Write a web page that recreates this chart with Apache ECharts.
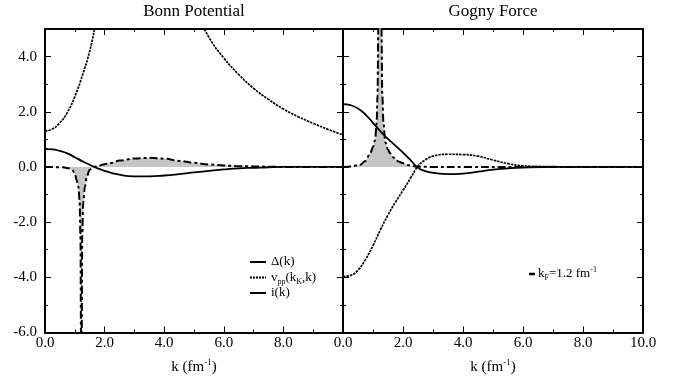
<!DOCTYPE html>
<html><head><meta charset="utf-8">
<script src="https://cdn.jsdelivr.net/npm/echarts@6/dist/echarts.min.js"></script>
<style>html,body{margin:0;padding:0;background:#fff}#c{width:683px;height:380px}</style>
</head><body><div id="c"></div>
<script>
// ---------- data ----------
const panelTitles = ['Bonn Potential', 'Gogny Force'];
const xTicks = [0, 2, 4, 6, 8, 10];
const yTicks = [-6, -4, -2, 0, 2, 4];

// Bonn potential
const bonnDeltaK = [0, 0.25, 0.5, 0.75, 1.0, 1.25, 1.5, 1.75, 2.0, 2.5, 3.0, 3.5, 4.0, 4.5, 5.0, 5.5, 6.0, 6.5, 7.0, 7.5, 8.0, 9.0, 10.0];
const bonnDeltaV = [0.65, 0.64, 0.58, 0.49, 0.35, 0.21, 0.08, -0.04, -0.14, -0.28, -0.34, -0.34, -0.31, -0.26, -0.20, -0.14, -0.09, -0.05, -0.03, -0.01, 0, 0, 0];

const bonnVppK = [0, 0.25, 0.5, 0.75, 1.0, 1.25, 1.5, 1.75, 2.0, 2.5, 3.0, 3.5, 4.0, 4.5, 5.0, 5.5, 6.0, 6.5, 7.0, 7.5, 8.0, 8.5, 9.0, 9.5, 10.0];
const bonnVppV = [1.30, 1.38, 1.60, 1.98, 2.55, 3.30, 4.20, 5.40, 6.3, 7.8, 8.6, 8.7, 8.0, 6.9, 5.8, 4.7, 3.95, 3.35, 2.85, 2.45, 2.10, 1.82, 1.58, 1.36, 1.16];

const bonnIK = [0, 0.6, 0.8, 0.9, 1.0, 1.06, 1.12, 1.16, 1.19, 1.21, 1.22, 1.23, 1.25, 1.28, 1.34, 1.4, 1.5, 1.6, 1.7, 1.8, 2.0, 2.2, 2.5, 3.0, 3.5, 4.0, 4.5, 5.0, 5.5, 6.0, 6.5, 7.0, 7.5, 8.0, 9.0, 10.0];
const bonnIV = [0, -0.01, -0.05, -0.1, -0.22, -0.47, -0.71, -1.2, -2.5, -6.5, -20, -6.5, -2.5, -1.3, -0.71, -0.35, -0.1, -0.02, 0.02, 0.05, 0.10, 0.14, 0.23, 0.31, 0.33, 0.30, 0.22, 0.15, 0.09, 0.05, 0.03, 0.02, 0.01, 0, 0, 0];

// Gogny force
const gognyDeltaK = [0, 0.25, 0.5, 0.75, 1.0, 1.2, 1.4, 1.6, 1.8, 2.0, 2.25, 2.5, 2.75, 3.0, 3.5, 4.0, 4.5, 5.0, 5.5, 6.0, 7.0, 8.0, 9.0, 10.0];
const gognyDeltaV = [2.28, 2.24, 2.12, 1.90, 1.60, 1.35, 1.12, 0.92, 0.72, 0.52, 0.25, -0.03, -0.15, -0.21, -0.26, -0.24, -0.17, -0.10, -0.05, -0.02, 0, 0, 0, 0];

const gognyVppK = [0, 0.25, 0.5, 0.75, 1.0, 1.25, 1.5, 1.75, 2.0, 2.25, 2.5, 2.75, 3.0, 3.5, 4.0, 4.5, 5.0, 5.5, 6.0, 6.5, 7.0, 8.0, 9.0, 10.0];
const gognyVppV = [-3.97, -3.93, -3.74, -3.35, -2.85, -2.27, -1.74, -1.27, -0.85, -0.41, 0.03, 0.26, 0.39, 0.46, 0.45, 0.39, 0.25, 0.12, 0.04, 0.02, 0.01, 0, 0, 0];

const gognyIK = [0, 0.3, 0.57, 0.75, 0.91, 1.0, 1.07, 1.12, 1.15, 1.18, 1.21, 1.23, 1.25, 1.28, 1.31, 1.35, 1.41, 1.5, 1.57, 1.7, 1.85, 2.0, 2.2, 2.45, 3.0, 4.0, 6.0, 8.0, 10.0];
const gognyIV = [0, 0.02, 0.08, 0.22, 0.5, 0.72, 0.98, 1.58, 2.6, 5.2, 9, 20, 9, 5.2, 2.6, 1.58, 0.9, 0.62, 0.5, 0.33, 0.2, 0.13, 0.06, 0.01, 0, 0, 0, 0, 0];

const legendLeft = ['{m|Δ(k)}', '{m|v}{s|pp}{m|(k}{s|K}{m|,k)}', '{m|i(k)}'];
const legendRight = ['{m|k}{s|F}{m|=1.2 fm}{p|-1}'];
const axisNameText = '{n|k (fm}{p|-1}{n|)}';

// ---------- chart ----------
const FONT = 'Liberation Serif';
const pairs = (k, v) => k.map((x, i) => [x, v[i]]);
const solid = { color: '#000', width: 1.8, type: 'solid' };
const dotted = { color: '#000', width: 1.7, type: [2.5, 1] };
const dashdot = { color: '#000', width: 2, type: [8, 3, 3, 3] };
const GRAY = '#c6c6c6';

function xAx(grid, pos, labels, hideMax) {
  return {
    type: 'value', gridIndex: grid, position: pos, min: 0, max: 10, interval: 2,
    axisLine: { show: true, onZero: false, lineStyle: { color: '#000', width: 2 } },
    axisTick: { show: true, inside: true, length: 6, lineStyle: { color: '#000', width: 1 } },
    minorTick: { show: true, splitNumber: 2, length: 3, lineStyle: { color: '#000', width: 1 } },
    splitLine: { show: false },
    axisLabel: { show: labels, margin: 3, showMaxLabel: !hideMax, color: '#000', fontFamily: FONT, fontSize: 15,
      formatter: v => v.toFixed(1) },
    name: labels ? axisNameText : '', nameLocation: 'middle', nameGap: 26,
    nameTextStyle: { rich: {
      n: { fontFamily: FONT, fontSize: 15, color: '#000', lineHeight: 18 },
      p: { fontFamily: FONT, fontSize: 9, color: '#000', lineHeight: 10, verticalAlign: 'top' } } }
  };
}
function yAx(grid, pos, labels) {
  return {
    type: 'value', gridIndex: grid, position: pos, min: -6, max: 5, interval: 2,
    axisLine: { show: true, onZero: false, lineStyle: { color: '#000', width: 2 } },
    axisTick: { show: true, inside: true, length: 6, lineStyle: { color: '#000', width: 1 } },
    minorTick: { show: true, splitNumber: 2, length: 3, lineStyle: { color: '#000', width: 1 } },
    splitLine: { show: false },
    axisLabel: { show: labels, margin: 8, showMaxLabel: false, color: '#000', fontFamily: FONT, fontSize: 15,
      formatter: v => v.toFixed(1) }
  };
}
function line(xi, k, v, style, area) {
  const s = {
    type: 'line', xAxisIndex: xi, yAxisIndex: xi, data: pairs(k, v), showSymbol: false, symbol: 'none',
    smooth: area ? 0.35 : 0.5, clip: true, lineStyle: style, animation: false
  };
  if (area) { s.areaStyle = { color: GRAY, opacity: 1, origin: 0 }; s.smoothMonotone = 'x'; }
  return s;
}

const richLegend = {
  m: { fontFamily: FONT, fontSize: 13, fill: '#000', lineHeight: 16 },
  s: { fontFamily: FONT, fontSize: 8, fill: '#000', lineHeight: 8, verticalAlign: 'bottom' },
  p: { fontFamily: FONT, fontSize: 8, fill: '#000', lineHeight: 8, verticalAlign: 'top' }
};
const legendStyles = [solid, dotted, solid];
const graphics = [];
panelTitles.forEach((t, i) => graphics.push({ type: 'text', x: i === 0 ? 194 : 493, y: 3,
  style: { text: t, font: '17px ' + FONT, fill: '#000', textAlign: 'center' } }));
legendLeft.forEach((t, i) => {
  const y = 262 + i * 15.5;
  graphics.push({ type: 'line', shape: { x1: 250, y1: y, x2: 266, y2: y },
    style: { stroke: '#000', lineWidth: 2, lineDash: legendStyles[i].type === 'solid' ? null : [2, 1] } });
  graphics.push({ type: 'text', x: 271, y: y, style: { text: t, rich: richLegend, fill: '#000', verticalAlign: 'middle' } });
});
legendRight.forEach((t, i) => {
  const y = 274;
  graphics.push({ type: 'line', shape: { x1: 529, y1: y, x2: 535, y2: y }, style: { stroke: '#000', lineWidth: 2.5 } });
  graphics.push({ type: 'text', x: 538, y: y, style: { text: t, rich: richLegend, fill: '#000', verticalAlign: 'middle' } });
});

const option = {
  animation: false,
  backgroundColor: '#fff',
  grid: [
    { left: 45, right: 340, top: 29, bottom: 47 },
    { left: 343, right: 40, top: 29, bottom: 47 }
  ],
  xAxis: [xAx(0, 'bottom', true, true), xAx(0, 'top', false, false), xAx(1, 'bottom', true, false), xAx(1, 'top', false, false)],
  yAxis: [yAx(0, 'left', true), yAx(0, 'right', false), yAx(1, 'left', false), yAx(1, 'right', false)],
  series: [
    line(0, bonnIK, bonnIV, dashdot, true),
    line(0, bonnDeltaK, bonnDeltaV, solid),
    line(0, bonnVppK, bonnVppV, dotted),
    line(2, gognyIK, gognyIV, dashdot, true),
    line(2, gognyDeltaK, gognyDeltaV, solid),
    line(2, gognyVppK, gognyVppV, dotted)
  ],
  graphic: graphics
};
echarts.init(document.getElementById('c'), null, { renderer: 'canvas' }).setOption(option);
</script></body></html>
